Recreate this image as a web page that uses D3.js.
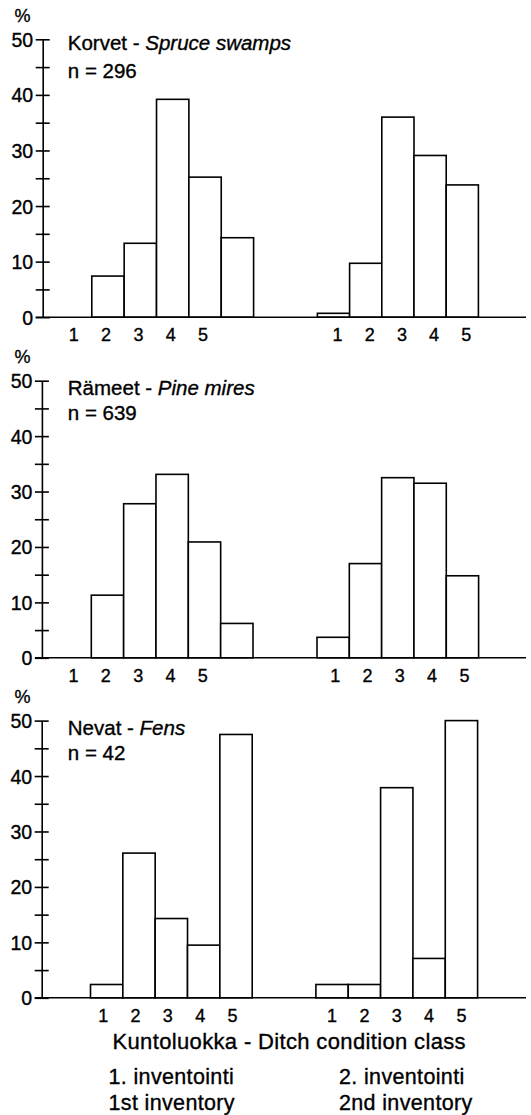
<!DOCTYPE html>
<html>
<head>
<meta charset="utf-8">
<script src="https://cdn.jsdelivr.net/npm/d3@7"></script>
<style>
  html, body { margin: 0; padding: 0; background: #fff; }
  svg { display: block; }
  text { font-family: "Liberation Sans", Arial, Helvetica, sans-serif; fill: #000; stroke: #000; stroke-width: 0.35px; }
</style>
</head>
<body>
<svg id="chart" width="531" height="1115"></svg>
<script>
// ---------- data ----------
const classes = [1, 2, 3, 4, 5];
const classLabels = ["1", "2", "3", "4", "5"];
const yTicks = [0, 10, 20, 30, 40, 50];
const yMinorTicks = [0, 5, 10, 15, 20, 25, 30, 35, 40, 45, 50];

const habitatFi = ["Korvet", "Rämeet", "Nevat"];
const habitatEn = ["Spruce swamps", "Pine mires", "Fens"];
const sampleN = [296, 639, 42];

// percent of ditches per condition class, 1st and 2nd inventory
const korvet1 = [7.4, 13.3, 39.2, 25.2, 14.3];
const korvet2 = [0.7, 9.7, 36.0, 29.1, 23.8];
const rameet1 = [11.3, 27.8, 33.1, 20.9, 6.2];
const rameet2 = [3.7, 17.0, 32.5, 31.5, 14.8];
const nevat1 = [2.4, 26.1, 14.3, 9.5, 47.5];
const nevat2 = [2.4, 2.4, 37.9, 7.1, 50.0];

const axisTitle = "Kuntoluokka - Ditch condition class";
const inventoryFi = ["1. inventointi", "2. inventointi"];
const inventoryEn = ["1st inventory", "2nd inventory"];

// ---------- layout ----------
const panels = [
  { first: korvet1, second: korvet2, y0: 317.2, y50: 39.3, axisX: 42.7, titleDy: 11, nDy: 38.5,
    bandL: [91.8, 253.6], bandR: [317.4, 478.4], lblShiftL: -34.3, lblShiftR: 4 },
  { first: rameet1, second: rameet2, y0: 657.8, y50: 380.7, axisX: 41.9, titleDy: 14.5, nDy: 39.3,
    bandL: [91.3, 253.0], bandR: [317.0, 478.6], lblShiftL: -34, lblShiftR: 2 },
  { first: nevat1, second: nevat2, y0: 997.8, y50: 720.6, axisX: 41.7, titleDy: 14.5, nDy: 39.3,
    bandL: [90.5, 252.2], bandR: [315.9, 477.6], lblShiftL: -3.5, lblShiftR: 0 }
];
const baselineEnd = 526;
const SW = 1.6;

const svg = d3.select("#chart");

panels.forEach((p, i) => {
  const g = svg.append("g");
  const y = d3.scaleLinear().domain([0, 50]).range([p.y0, p.y50]);
  const xL = d3.scaleBand().domain(classes).range(p.bandL).paddingInner(0).paddingOuter(0);
  const xR = d3.scaleBand().domain(classes).range(p.bandR).paddingInner(0).paddingOuter(0);

  // bars
  [[p.first, xL], [p.second, xR]].forEach(([vals, x]) => {
    g.selectAll(null)
      .data(classes.map((c, k) => ({ c, v: vals[k] })))
      .join("rect")
      .attr("x", d => x(d.c))
      .attr("y", d => y(d.v))
      .attr("width", x.bandwidth())
      .attr("height", d => y(0) - y(d.v))
      .attr("fill", "#fff")
      .attr("stroke", "#000")
      .attr("stroke-width", SW);
  });

  // baseline
  g.append("line")
    .attr("x1", p.axisX - 7).attr("x2", baselineEnd)
    .attr("y1", y(0)).attr("y2", y(0))
    .attr("stroke", "#000").attr("stroke-width", SW);

  // y axis via d3.axisLeft with crossing ticks
  const axis = d3.axisLeft(y).tickValues(yMinorTicks).tickSize(0).tickFormat("");
  const ag = g.append("g").attr("transform", `translate(${p.axisX},0)`).call(axis);
  ag.select(".domain").attr("stroke", "#000").attr("stroke-width", SW);
  ag.selectAll(".tick line")
    .attr("x1", -7).attr("x2", 7)
    .attr("stroke", "#000").attr("stroke-width", SW);
  ag.selectAll(".tick").filter(d => yTicks.includes(d))
    .append("text")
    .attr("x", -9.5).attr("dy", "0.36em")
    .attr("text-anchor", "end")
    .style("font-size", "19.5px")
    .attr("fill", "#000")
    .text(d => d);

  // % label
  g.append("text")
    .attr("x", 22.5).attr("y", p.y50 - 17.5)
    .attr("text-anchor", "middle")
    .style("font-size", "18px")
    .text("%");

  // class labels
  [[xL, p.lblShiftL], [xR, p.lblShiftR]].forEach(([x, sh]) => {
    g.selectAll(null)
      .data(classes)
      .join("text")
      .attr("x", d => x(d) + x.bandwidth() / 2 + sh)
      .attr("y", y(0) + 24)
      .attr("text-anchor", "middle")
      .style("font-size", "18px")
      .text((d, k) => classLabels[k]);
  });

  // titles
  const t = g.append("text")
    .attr("x", 67.8).attr("y", p.y50 + p.titleDy)
    .style("font-size", "20.5px");
  t.append("tspan").text(habitatFi[i] + " - ");
  t.append("tspan").style("font-style", "italic").text(habitatEn[i]);

  g.append("text")
    .attr("x", 67.8).attr("y", p.y50 + p.nDy)
    .style("font-size", "20.5px")
    .text("n = " + sampleN[i]);
});

// bottom texts
svg.append("text")
  .attr("x", 112.5).attr("y", 1048.5)
  .style("font-size", "22px")
  .style("letter-spacing", "0.35px")
  .text(axisTitle);

[108.5, 339].forEach((x, k) => {
  svg.append("text").attr("x", x).attr("y", 1083.5)
    .style("font-size", "21.5px").style("letter-spacing", "0.35px").text(inventoryFi[k]);
  svg.append("text").attr("x", x).attr("y", 1110)
    .style("font-size", "21.5px").style("letter-spacing", "0.35px").text(inventoryEn[k]);
});
</script>
</body>
</html>
